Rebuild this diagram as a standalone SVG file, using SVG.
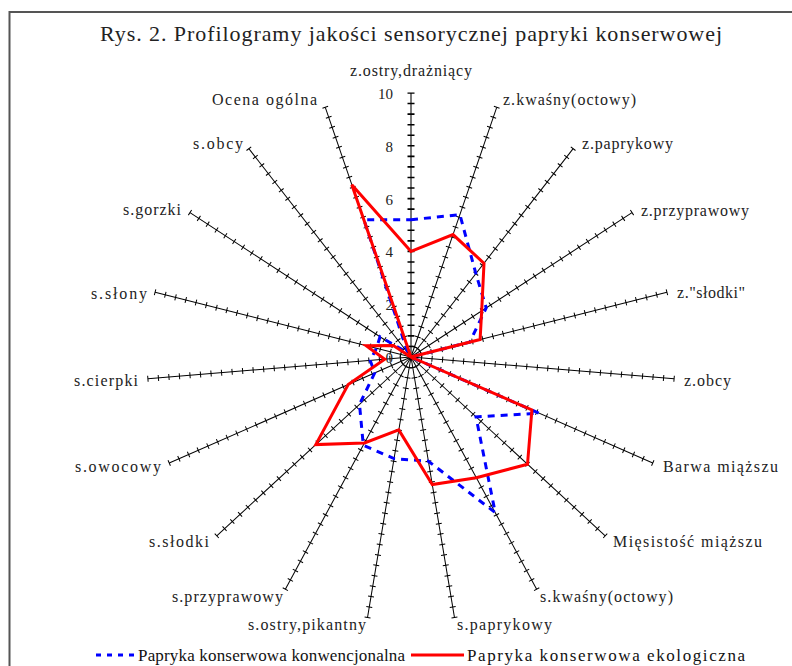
<svg xmlns="http://www.w3.org/2000/svg" xmlns:xlink="http://www.w3.org/1999/xlink" width="792" height="666" viewBox="0 0 792 666">
<style>
  .lb{font-family:"Liberation Serif","Times New Roman",serif;font-size:16px;fill:#222}
  .num{font-family:"Liberation Serif","Times New Roman",serif;font-size:15px;fill:#222;text-anchor:end}
  .ttl{font-family:"Liberation Serif","Times New Roman",serif;font-size:22px;fill:#222}
  .lg{font-family:"Liberation Serif","Times New Roman",serif;font-size:17px;fill:#111}
  .ax{stroke:#000;stroke-width:1;fill:none}
  .tk{stroke:#000;stroke-width:6;stroke-dasharray:1 9.56;stroke-dashoffset:0.5;fill:none}
  .ax0{stroke:#777;stroke-width:2;fill:none}
  .tk0{stroke:#000;stroke-width:7;stroke-dasharray:1.6 8.96;stroke-dashoffset:0.8;fill:none}
  .red{stroke:#ff0000;stroke-width:3;fill:none;stroke-linejoin:miter}
  .blue{stroke:#0000ff;stroke-width:3;fill:none;stroke-dasharray:7 6}
</style>
<defs>
  <g id="axis">
    <line class="ax" x1="411" y1="357" x2="411" y2="93"/>
    <line class="tk" x1="411" y1="357" x2="411" y2="92.5"/>
  </g>
</defs>
<rect x="0" y="0" width="792" height="666" fill="#fff"/>
<rect x="9.5" y="12" width="800" height="700" fill="none" stroke="#555" stroke-width="2"/>
<text class="ttl" x="100" y="41" textLength="622">Rys. 2.  Profilogramy jakości sensorycznej papryki konserwowej</text>

<g id="axes">
  <g id="axis0">
    <line class="ax0" x1="411" y1="357" x2="411" y2="93"/>
    <line class="tk0" x1="411" y1="357" x2="411" y2="92.5"/>
  </g>
  <use xlink:href="#axis" transform="rotate(18.947 411 357)"/>
  <use xlink:href="#axis" transform="rotate(37.895 411 357)"/>
  <use xlink:href="#axis" transform="rotate(56.842 411 357)"/>
  <use xlink:href="#axis" transform="rotate(75.789 411 357)"/>
  <use xlink:href="#axis" transform="rotate(94.737 411 357)"/>
  <use xlink:href="#axis" transform="rotate(113.684 411 357)"/>
  <use xlink:href="#axis" transform="rotate(132.632 411 357)"/>
  <use xlink:href="#axis" transform="rotate(151.579 411 357)"/>
  <use xlink:href="#axis" transform="rotate(170.526 411 357)"/>
  <use xlink:href="#axis" transform="rotate(189.474 411 357)"/>
  <use xlink:href="#axis" transform="rotate(208.421 411 357)"/>
  <use xlink:href="#axis" transform="rotate(227.368 411 357)"/>
  <use xlink:href="#axis" transform="rotate(246.316 411 357)"/>
  <use xlink:href="#axis" transform="rotate(265.263 411 357)"/>
  <use xlink:href="#axis" transform="rotate(284.211 411 357)"/>
  <use xlink:href="#axis" transform="rotate(303.158 411 357)"/>
  <use xlink:href="#axis" transform="rotate(322.105 411 357)"/>
  <use xlink:href="#axis" transform="rotate(341.053 411 357)"/>
</g>

<g id="scale">
  <text class="num" x="393" y="99">10</text>
  <text class="num" x="393" y="152">8</text>
  <text class="num" x="393" y="205">6</text>
  <text class="num" x="393" y="257">4</text>
  <text class="num" x="393" y="310">2</text>
  <text class="num" x="393" y="363">0</text>
</g>

<g id="labels">
  <text class="lb" x="350" y="76" textLength="122">z.ostry,drażniący</text>
  <text class="lb" x="503" y="105" textLength="133">z.kwaśny(octowy)</text>
  <text class="lb" x="582" y="149" textLength="91">z.paprykowy</text>
  <text class="lb" x="641" y="216" textLength="108">z.przyprawowy</text>
  <text class="lb" x="677" y="298" textLength="68">z."słodki"</text>
  <text class="lb" x="684" y="386" textLength="47">z.obcy</text>
  <text class="lb" x="663" y="472" textLength="115">Barwa miąższu</text>
  <text class="lb" x="613" y="547" textLength="149">Mięsistość miąższu</text>
  <text class="lb" x="540" y="602" textLength="133">s.kwaśny(octowy)</text>
  <text class="lb" x="457" y="630" textLength="95">s.paprykowy</text>
  <text class="lb" x="248" y="630" textLength="118">s.ostry,pikantny</text>
  <text class="lb" x="172" y="602" textLength="111">s.przyprawowy</text>
  <text class="lb" x="149" y="547" textLength="60">s.słodki</text>
  <text class="lb" x="75" y="472" textLength="86">s.owocowy</text>
  <text class="lb" x="74" y="386" textLength="64">s.cierpki</text>
  <text class="lb" x="91" y="299" textLength="56">s.słony</text>
  <text class="lb" x="123" y="215" textLength="58">s.gorzki</text>
  <text class="lb" x="193" y="149" textLength="50">s.obcy</text>
  <text class="lb" x="212" y="105" textLength="105">Ocena ogólna</text>
</g>

<g id="series">
  <polygon id="konwencjonalna" class="blue" points="411,219.7 459.9,214.7 475.9,273.7 486.2,307.9 469.8,342.1 411,357 539.1,413.2 476.0,416.9 495.2,512.6 428.4,461.2 394.0,458.6 363.3,445.2 359.5,404.4 374.7,372.9 370.2,360.4 376.5,348.3 380.0,336.8 407.8,352.8 363.9,219.7"/>
  <polygon id="ekologiczna" class="red" points="411,251.4 453.0,234.6 484.0,263.3 481.7,310.8 480.1,339.5 411,357 531.9,410.0 527.5,464.3 476.3,477.7 432.3,484.6 398.8,429.9 364.5,442.9 315.8,444.6 348.2,384.6 384.7,359.2 366.2,345.7 393.3,345.5 411,357 351.8,184.7"/>
</g>

<g id="legend">
  <line class="blue" x1="96" y1="655" x2="136" y2="655" style="stroke-dasharray:5 6"/>
  <text class="lg" x="138" y="661" textLength="267">Papryka konserwowa konwencjonalna</text>
  <line class="red" x1="411" y1="655" x2="464" y2="655"/>
  <text class="lg" x="467" y="661" textLength="278">Papryka konserwowa ekologiczna</text>
</g>
</svg>
